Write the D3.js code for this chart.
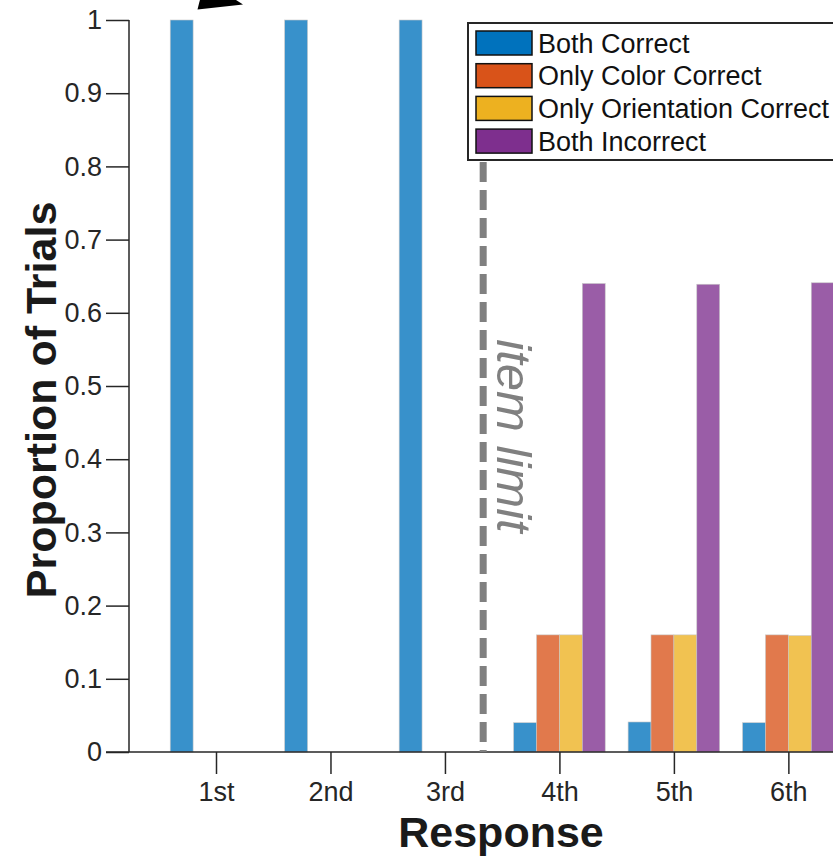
<!DOCTYPE html>
<html>
<head>
<meta charset="utf-8">
<script src="https://cdnjs.cloudflare.com/ajax/libs/d3/7.8.5/d3.min.js"></script>
<style>
  body { margin: 0; background: #fff; }
  svg { display: block; font-family: "Liberation Sans", Arial, Helvetica, sans-serif; }
</style>
</head>
<body>
<div id="chart"></div>
<script>
// data
var responses = ["1st", "2nd", "3rd", "4th", "5th", "6th"];
var seriesNames = ["Both Correct", "Only Color Correct", "Only Orientation Correct", "Both Incorrect"];
var bothCorrect = [1, 1, 1, 0.04, 0.041, 0.04];
var onlyColor = [0, 0, 0, 0.16, 0.16, 0.16];
var onlyOrientation = [0, 0, 0, 0.16, 0.16, 0.159];
var bothIncorrect = [0, 0, 0, 0.64, 0.639, 0.641];
var yTicks = [0, 0.1, 0.2, 0.3, 0.4, 0.5, 0.6, 0.7, 0.8, 0.9, 1];
var itemLimit = 3.334;

var colors = ["#0072BD", "#D95319", "#EDB120", "#7E2F8E"];
var series = [bothCorrect, onlyColor, onlyOrientation, bothIncorrect];

var W = 833, H = 857;
var margin = {left: 129, top: 20, bottom: 105};
var plotH = H - margin.top - margin.bottom;

var svg = d3.select("#chart").append("svg")
  .attr("width", W).attr("height", H);

// group positions (1-based index)
var xScale = d3.scaleLinear()
  .domain([0.24, 1])
  .range([margin.left, 216]);
var step = xScale(2) - xScale(1);
var barW = step * 0.2;

var yScale = d3.scaleLinear()
  .domain([0, 1])
  .range([margin.top + plotH, margin.top]);

// bars
series.forEach(function(vals, s) {
  svg.append("g").selectAll("rect")
    .data(vals)
    .enter().append("rect")
      .attr("x", function(d, i) { return xScale(i + 1) + (s - 2) * barW; })
      .attr("width", barW)
      .attr("y", function(d) { return yScale(d); })
      .attr("height", function(d) { return yScale(0) - yScale(d); })
      .attr("fill", colors[s])
      .attr("fill-opacity", 0.78)
      .attr("stroke", "#c8c8c8")
      .attr("stroke-width", function(d) { return d > 0 ? 0.6 : 0; });
});

// y axis
var yAxis = svg.append("g")
  .attr("transform", "translate(" + margin.left + ",0)")
  .call(d3.axisLeft(yScale).tickValues(yTicks).tickSize(23).tickPadding(4)
    .tickFormat(function(d) { return d === 0 ? "0" : d === 1 ? "1" : d3.format(".1f")(d); }));
yAxis.select(".domain").remove();
yAxis.append("line")
  .attr("x1", 0).attr("x2", 0)
  .attr("y1", yScale(1)).attr("y2", yScale(0))
  .attr("stroke", "#262626").attr("stroke-width", 1.5);
yAxis.selectAll(".tick line").attr("stroke", "#262626").attr("stroke-width", 1.5);
yAxis.selectAll(".tick text").attr("fill", "#262626").style("font-size", "27px");

// x axis
var xAxis = svg.append("g")
  .attr("transform", "translate(0," + yScale(0) + ")")
  .call(d3.axisBottom(xScale).tickValues(d3.range(1, responses.length + 1))
    .tickSize(22).tickPadding(8)
    .tickFormat(function(d) { return responses[d - 1]; }));
xAxis.select(".domain").remove();
xAxis.append("line")
  .attr("x1", margin.left - 23).attr("x2", W)
  .attr("stroke", "#262626").attr("stroke-width", 1.5);
xAxis.selectAll(".tick line").attr("stroke", "#262626").attr("stroke-width", 1.5);
xAxis.selectAll(".tick text").attr("fill", "#262626").style("font-size", "27px");

// axis titles
svg.append("text")
  .attr("x", 501).attr("y", 847)
  .attr("text-anchor", "middle")
  .style("font-size", "43px").style("font-weight", "bold")
  .attr("fill", "#1a1a1a")
  .text("Response");
svg.append("text")
  .attr("transform", "translate(56,400) rotate(-90)")
  .attr("text-anchor", "middle")
  .style("font-size", "43px").style("font-weight", "bold")
  .attr("fill", "#1a1a1a")
  .text("Proportion of Trials");

// item limit line
svg.append("line")
  .attr("x1", xScale(itemLimit)).attr("x2", xScale(itemLimit))
  .attr("y1", 162).attr("y2", yScale(0))
  .attr("stroke", "#808080").attr("stroke-width", 7)
  .attr("stroke-dasharray", "20,8");
svg.append("text")
  .attr("transform", "translate(" + (xScale(itemLimit) + 14) + ",436) rotate(90)")
  .attr("text-anchor", "middle")
  .style("font-size", "49px").style("font-style", "italic")
  .attr("fill", "#808080")
  .text("item limit");

// arrow head at top
svg.append("path")
  .attr("d", "M197.5,9.5 L243,4.5 L205,-20 Z")
  .attr("fill", "#000");

// legend
var legend = svg.append("g").attr("transform", "translate(468,23)");
legend.append("rect")
  .attr("x", 0).attr("y", 0).attr("width", 380).attr("height", 137)
  .attr("fill", "#fff").attr("stroke", "#262626").attr("stroke-width", 2);
seriesNames.forEach(function(name, i) {
  var g = legend.append("g").attr("transform", "translate(8," + (8 + i * 32.7) + ")");
  g.append("rect")
    .attr("width", 56).attr("height", 24)
    .attr("fill", colors[i]).attr("stroke", "#111").attr("stroke-width", 1.5);
  g.append("text")
    .attr("x", 62).attr("y", 21.5)
    .style("font-size", "27px").attr("fill", "#111")
    .text(name);
});
</script>
</body>
</html>
